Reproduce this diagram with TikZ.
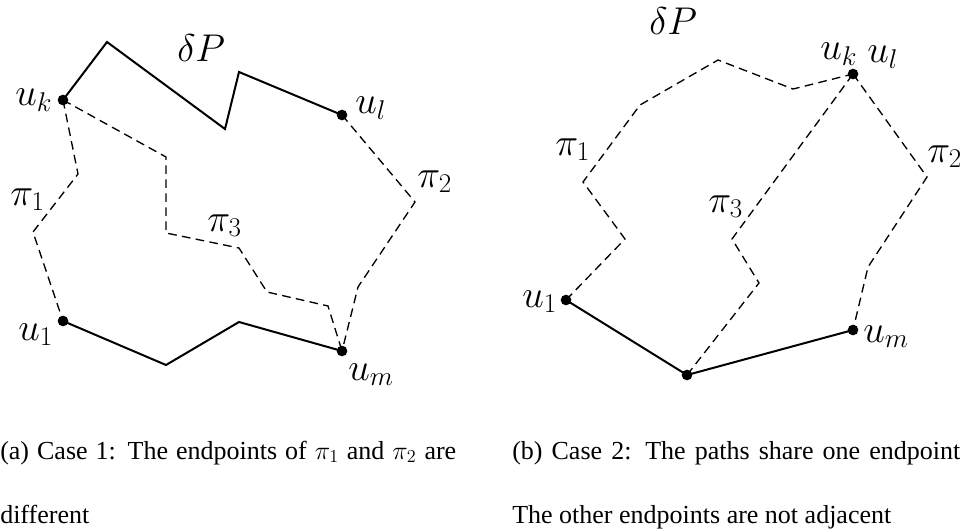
\RequirePackage{fix-cm}
\documentclass[tikz,border=0pt]{standalone}
\usepackage{fontspec}
\setmainfont{Liberation Serif}
\begin{document}
\begin{tikzpicture}[x=0.75pt,y=-0.75pt,
  solidpath/.style={line width=1.5pt,line join=miter},
  dashpath/.style={line width=1pt,dash pattern=on 6.5pt off 4pt},
  vdot/.style={circle,fill=black,inner sep=0pt,minimum size=8pt},
  lbl/.style={inner sep=0pt,anchor=base west,font=\fontsize{29}{34}\selectfont},
  captext/.style={inner sep=0pt,anchor=base west,font=\fontsize{19.5}{23}\selectfont}]
\useasboundingbox (0,0) rectangle (962,531);
% ---------- left figure ----------
\coordinate (a1) at (107,42);
\coordinate (a2) at (225,129);
\coordinate (a3) at (239,72);
\coordinate (b1) at (166,365);
\coordinate (b2) at (239,322);
\coordinate (p1) at (78,174);
\coordinate (p2) at (33,232);
\coordinate (q1) at (166,157);
\coordinate (q2) at (166,233);
\coordinate (q3) at (239,248);
\coordinate (q4) at (267,292);
\coordinate (q5) at (328,306);
\coordinate (r1) at (415,202);
\coordinate (r2) at (358,287);
\coordinate (uk) at (63,100);
\coordinate (ul) at (342,115);
\coordinate (u1) at (63,321);
\coordinate (um) at (342,351);
\draw[solidpath] (uk) -- (a1) -- (a2) -- (a3) -- (ul);
\draw[solidpath] (u1) -- (b1) -- (b2) -- (um);
\draw[dashpath] (uk) -- (p1) -- (p2) -- (u1);
\draw[dashpath] (uk) -- (q1) -- (q2) -- (q3) -- (q4) -- (q5) -- (um);
\draw[dashpath] (ul) -- (r1) -- (r2) -- (um);
\node[vdot] (dk) at (uk) {};
\node[vdot] (dl) at (ul) {};
\node[vdot] (d1) at (u1) {};
\node[vdot] (dm) at (um) {};
\node[lbl] (LdP) at (177,62) {$\delta P$};
\node[lbl] (Luk) at (15,106) {$u_k$};
\node[lbl] (Lul) at (355,114) {$u_l$};
\node[lbl] (Lp1) at (10,205) {$\pi_1$};
\node[lbl] (Lp2) at (417,187) {$\pi_2$};
\node[lbl] (Lp3) at (207,231) {$\pi_3$};
\node[lbl] (Lu1) at (18,340) {$u_1$};
\node[lbl] (Lum) at (348,380) {$u_m$};
% ---------- right figure ----------
\coordinate (v) at (853,74);
\coordinate (w1) at (566,300);
\coordinate (w0) at (687,375);
\coordinate (wm) at (853,330);
\coordinate (s1) at (625,239);
\coordinate (s2) at (583,182);
\coordinate (s3) at (640,105);
\coordinate (s4) at (718,60);
\coordinate (s5) at (793,89);
\coordinate (t1) at (759,283);
\coordinate (t2) at (732,239);
\coordinate (o1) at (927,177);
\coordinate (o2) at (868,267);
\draw[solidpath] (w1) -- (w0) -- (wm);
\draw[dashpath] (w1) -- (s1) -- (s2) -- (s3) -- (s4) -- (s5) -- (v);
\draw[dashpath] (w0) -- (t1) -- (t2) -- (v);
\draw[dashpath] (v) -- (o1) -- (o2) -- (wm);
\node[vdot] (ev) at (v) {};
\node[vdot] (e1) at (w1) {};
\node[vdot] (e0) at (w0) {};
\node[vdot] (em) at (wm) {};
\node[lbl] (RdP) at (649,35) {$\delta P$};
\node[lbl] (Ruk) at (820,60) {$u_k$};
\node[lbl] (Rul) at (867,63) {$u_l$};
\node[lbl] (Rp1) at (555,155) {$\pi_1$};
\node[lbl] (Rp2) at (927,162) {$\pi_2$};
\node[lbl] (Rp3) at (708,212) {$\pi_3$};
\node[lbl] (Ru1) at (522,307) {$u_1$};
\node[lbl] (Rum) at (863,342) {$u_m$};
% ---------- captions ----------
\node[captext] (ca1) at (0,459) {\makebox[342pt][s]{(a) Case 1: The endpoints of $\pi_1$ and $\pi_2$ are}};
\node[captext] (ca2) at (0,523) {different};
\node[captext] (cb1) at (512,459) {\makebox[336pt][s]{(b) Case 2: The paths share one endpoint}};
\node[captext] (cb2) at (512,523) {The other endpoints are not adjacent};
\end{tikzpicture}
\end{document}
